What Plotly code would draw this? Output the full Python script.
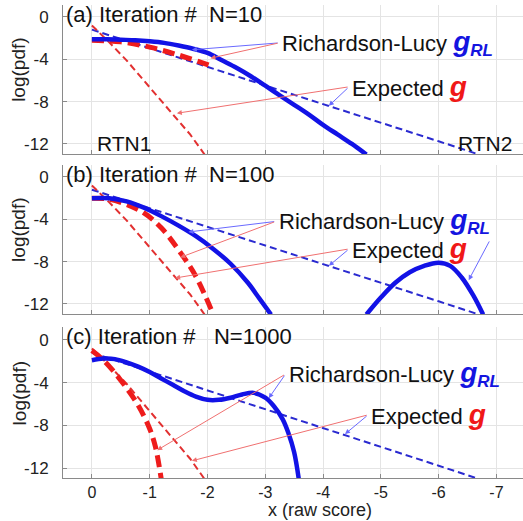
import plotly.graph_objects as go
from plotly.subplots import make_subplots

# ---------------- data ----------------
# Expected g, RTN1 (thin red dashed) - same in all panels
exp1_x = [0, -0.3, -0.6, -1.0, -1.4, -1.7, -1.95]
exp1_y = [-0.8, -2.4, -4.1, -6.6, -9.2, -11.1, -13.0]
# Expected g, RTN2 (thin blue dashed) - same in all panels
exp2_x = [0, -2, -4, -6, -6.7]
exp2_y = [-1.2, -4.7, -8.2, -11.75, -13.0]

# (a) N=10  Richardson-Lucy estimates
a_rl1_x = [0, -0.5, -1.0, -1.5, -2.0, -2.1]
a_rl1_y = [-2.2, -2.35, -2.85, -3.6, -4.5, -4.7]
a_rl2_x = [0, -0.25, -0.5, -0.75, -1.0, -1.25, -1.5, -1.75, -2.0, -2.25, -2.5,
           -2.75, -3.0, -3.25, -3.5, -3.75, -4.0, -4.25, -4.5, -4.75]
a_rl2_y = [-2.1, -2.1, -2.15, -2.2, -2.3, -2.45, -2.7, -3.0, -3.4, -4.1, -4.8,
           -5.6, -6.5, -7.4, -8.3, -9.2, -10.2, -11.1, -12.0, -13.0]

# (b) N=100
b_rl1_x = [0, -0.3, -0.6, -0.9, -1.2, -1.5, -1.8, -2.1]
b_rl1_y = [-2.0, -2.1, -2.6, -3.4, -4.8, -6.9, -9.4, -13.0]
b_rl2_x = [0, -0.3, -0.6, -0.9, -1.2, -1.5, -1.8, -2.1, -2.4, -2.7, -2.9, -3.1]
b_rl2_y = [-2.0, -2.0, -2.3, -2.9, -3.7, -4.6, -5.6, -6.8, -8.2, -10.0, -11.5, -13.0]
b_rl2b_x = [-4.75, -5.0, -5.25, -5.5, -5.75, -6.0, -6.2, -6.4, -6.6, -6.77]
b_rl2b_y = [-13.0, -11.4, -10.0, -9.0, -8.4, -8.1, -8.4, -9.5, -11.2, -13.0]

# (c) N=1000
c_rl1_x = [0, -0.2, -0.4, -0.6, -0.8, -1.0, -1.1, -1.2]
c_rl1_y = [-1.0, -1.9, -3.1, -4.5, -6.1, -8.3, -10.0, -13.0]
c_rl2_x = [0, -0.2, -0.4, -0.6, -0.8, -1.0, -1.2, -1.4, -1.6, -1.8, -2.0, -2.2,
           -2.4, -2.6, -2.8, -3.0, -3.15, -3.3, -3.4, -3.5, -3.58]
c_rl2_y = [-1.9, -1.75, -1.8, -2.1, -2.5, -3.0, -3.6, -4.2, -4.8, -5.3, -5.6, -5.6,
           -5.4, -5.1, -4.95, -5.4, -6.2, -7.4, -8.7, -10.5, -13.0]

x_ticks = [0, -1, -2, -3, -4, -5, -6, -7]
x_ticktext = ["0", "-1", "-2", "-3", "-4", "-5", "-6", "-7"]
y_ticks = [0, -4, -8, -12]
y_ticktext = ["0", "-4", "-8", "-12"]
panel_titles = ["(a) Iteration #\u00a0\u00a0N=10", "(b) Iteration #\u00a0\u00a0N=100",
                "(c) Iteration #\u00a0\u00a0\u00a0N=1000"]

# ---------------- styling ----------------
BLUE = "#1212e6"
RED = "#ee1c1c"
TBLUE = "#2a2ad0"
TRED = "#e23030"
ABLUE = "#6a6aff"
ARED = "#f07070"
FONT = "Liberation Sans, Arial, sans-serif"

fig = make_subplots(rows=3, cols=1, shared_xaxes=True)

panels = [
    (a_rl1_x, a_rl1_y, [(a_rl2_x, a_rl2_y)]),
    (b_rl1_x, b_rl1_y, [(b_rl2_x, b_rl2_y), (b_rl2b_x, b_rl2b_y)]),
    (c_rl1_x, c_rl1_y, [(c_rl2_x, c_rl2_y)]),
]

for i, (r1x, r1y, r2list) in enumerate(panels):
    row = i + 1
    fig.add_trace(go.Scatter(x=exp2_x, y=exp2_y, mode="lines",
                             line=dict(color=TBLUE, width=2, dash="7px,4px")), row=row, col=1)
    fig.add_trace(go.Scatter(x=exp1_x, y=exp1_y, mode="lines",
                             line=dict(color=TRED, width=2, dash="7px,4px")), row=row, col=1)
    fig.add_trace(go.Scatter(x=r1x, y=r1y, mode="lines", line_shape="spline",
                             line=dict(color=RED, width=5, dash="12px,6px")), row=row, col=1)
    for (x2, y2) in r2list:
        fig.add_trace(go.Scatter(x=x2, y=y2, mode="lines", line_shape="spline",
                                 line=dict(color=BLUE, width=4.5)), row=row, col=1)

yranges = [[-12.95, 1.13], [-12.95, 1.13], [-12.9, 1.2]]
ydomains = [[0.685, 1.0], [0.3467, 0.6617], [0.0, 0.3192]]

axis_common = dict(showgrid=True, gridcolor="#e4e4e4", gridwidth=1, zeroline=False,
                   showline=True, linecolor="#8a8a8a", linewidth=1,
                   ticks="inside", ticklen=4, tickcolor="#8a8a8a",
                   tickfont=dict(family=FONT, size=17, color="#222"))

for i in range(3):
    sx = "" if i == 0 else str(i + 1)
    fig.layout["xaxis" + sx].update(range=[0.5, -7.46], tickvals=x_ticks, ticktext=x_ticktext,
                                    showticklabels=(i == 2), ticklabelstandoff=0, **axis_common)
    fig.layout["yaxis" + sx].update(range=yranges[i], domain=ydomains[i], tickvals=y_ticks,
                                    ticktext=y_ticktext, ticklabelstandoff=10, **axis_common)
fig.layout["xaxis3"].tickfont.size = 16

annotations = []


def txt(ref, x, y, text, size=22, color="#111", xanchor="left"):
    annotations.append(dict(xref="x" + ref, yref="y" + ref, x=x, y=y, text=text,
                            showarrow=False, xanchor=xanchor, yanchor="middle",
                            font=dict(family=FONT, size=size, color=color)))


def arrow(ref, tx, ty, hx, hy, color):
    annotations.append(dict(xref="x" + ref, yref="y" + ref, x=hx, y=hy,
                            axref="x" + ref, ayref="y" + ref, ax=tx, ay=ty, text="",
                            showarrow=True, arrowhead=2, arrowsize=1, arrowwidth=1,
                            arrowcolor=color, standoff=0, startstandoff=0))


RL_TEXT = ("Richardson-Lucy <span style='color:#1414e0'><b><i><span style='font-size:28px'>g</span>"
           "<sub><span style='font-size:17px'>RL</span></sub></i></b></span>")
EXP_TEXT = "Expected <span style='color:#f01818;font-size:28px'><b><i>g</i></b></span>"

refs = ["", "2", "3"]
title_y = [0.19, 0.19, 0.27]
for i, ref in enumerate(refs):
    txt(ref, 0.48, title_y[i], panel_titles[i])
    annotations.append(dict(xref="paper", yref="y" + ref, x=0, xshift=-44, y=-5.0,
                            text="log(pdf)", textangle=-90, showarrow=False,
                            xanchor="center", yanchor="middle",
                            font=dict(family=FONT, size=19, color="#222")))

# panel (a)
txt("", -3.26, -2.45, RL_TEXT)
arrow("", -3.24, -2.45, -1.73, -3.1, ABLUE)
arrow("", -3.24, -2.45, -2.05, -3.9, ARED)
txt("", -4.47, -6.6, EXP_TEXT)
arrow("", -4.45, -6.6, -1.47, -9.1, ARED)
arrow("", -4.45, -6.6, -4.1, -8.4, ABLUE)
txt("", -0.55, -12.0, "RTN1", size=21, xanchor="center")
txt("", -6.8, -12.0, "RTN2", size=21, xanchor="center")

# panel (b)
txt("2", -3.2, -4.2, RL_TEXT)
arrow("2", -3.18, -4.2, -1.67, -5.2, ABLUE)
arrow("2", -3.18, -4.2, -1.53, -7.6, ARED)
arrow("2", -6.89, -5.95, -6.52, -9.75, ABLUE)
txt("2", -4.47, -6.8, EXP_TEXT)
arrow("2", -4.45, -6.8, -1.44, -9.55, ARED)
arrow("2", -4.45, -6.8, -4.1, -8.4, ABLUE)

# panel (c)
txt("3", -3.37, -3.2, RL_TEXT)
arrow("3", -3.35, -3.2, -3.06, -5.45, ABLUE)
arrow("3", -3.35, -3.2, -1.13, -10.3, ARED)
txt("3", -4.8, -7.0, EXP_TEXT)
arrow("3", -4.78, -7.0, -1.73, -11.3, ARED)
arrow("3", -4.78, -7.0, -4.38, -8.8, ABLUE)

# x-axis title
annotations.append(dict(xref="paper", yref="paper", x=0.559, y=0, yshift=-32,
                        text="x (raw score)", showarrow=False, xanchor="center",
                        yanchor="middle", font=dict(family=FONT, size=18, color="#222")))

fig.update_layout(width=523, height=521, margin=dict(l=63, r=0, t=5, b=43),
                  plot_bgcolor="white", paper_bgcolor="white", showlegend=False,
                  annotations=annotations)

fig.write_html("out.html")
